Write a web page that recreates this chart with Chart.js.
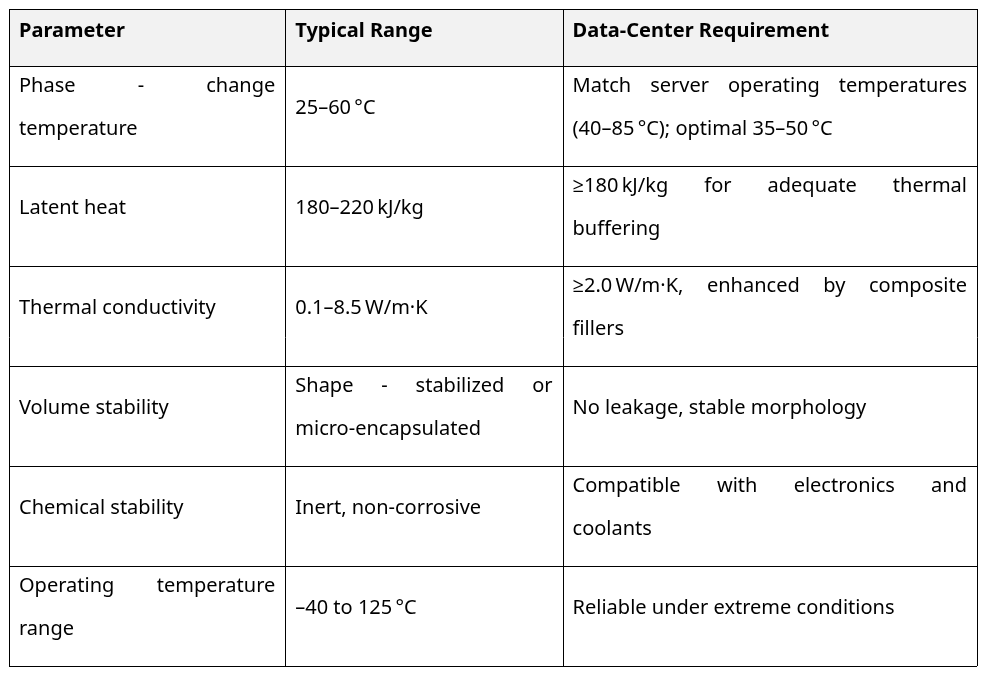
<!DOCTYPE html>
<html>
<head>
<meta charset="utf-8">
<script src="https://cdn.jsdelivr.net/npm/chart.js@4"></script>
<style>
  html, body { margin: 0; padding: 0; background: #fff; }
  #wrap { width: 984px; height: 673px; }
</style>
</head>
<body>
<div id="wrap"><canvas id="tbl"></canvas></div>
<script>
const headers = ['Parameter', 'Typical Range', 'Data-Center Requirement'];
const parameters = [
    ['Phase - change', 'temperature'],
    ['Latent heat'],
    ['Thermal conductivity'],
    ['Volume stability'],
    ['Chemical stability'],
    ['Operating temperature', 'range']
];
const ranges = [
    ['25\u201360\u2009\u00b0C'],
    ['180\u2013220\u2009kJ/kg'],
    ['0.1\u20138.5\u2009W/m\u00b7K'],
    ['Shape - stabilized or', 'micro-encapsulated'],
    ['Inert, non-corrosive'],
    ['\u201340 to 125\u2009\u00b0C']
];
const requirements = [
    ['Match server operating temperatures', '(40\u201385\u2009\u00b0C); optimal 35\u201350\u2009\u00b0C'],
    ['\u2265180\u2009kJ/kg for adequate thermal', 'buffering'],
    ['\u22652.0\u2009W/m\u00b7K, enhanced by composite', 'fillers'],
    ['No leakage, stable morphology'],
    ['Compatible with electronics and', 'coolants'],
    ['Reliable under extreme conditions']
];
const rowLabels = ['header', 'r1', 'r2', 'r3', 'r4', 'r5', 'r6'];
const colEdges = [0, 276, 553, 967];

const FONT = '"Noto Sans", "Open Sans", sans-serif';

function drawLine(ctx, words, x, y, width, justify) {
    if (!justify || words.length < 2) {
        ctx.fillText(words.join(' '), x, y);
        return;
    }
    const total = words.reduce((s, w) => s + ctx.measureText(w).width, 0);
    const gap = (width - total) / (words.length - 1);
    let cx = x;
    words.forEach(w => {
        ctx.fillText(w, cx, y);
        cx += ctx.measureText(w).width + gap;
    });
}

const tablePlugin = {
    id: 'tablePlugin',
    afterDraw(chart) {
        const ctx = chart.ctx;
        const xs = chart.scales.x, ys = chart.scales.y;
        const left = xs.getPixelForValue(colEdges[0]);
        const right = xs.getPixelForValue(colEdges[colEdges.length - 1]);
        const rowTop = i => ys.getPixelForValue(i) - ys.height / rowLabels.length / 2;
        const rowH = ys.height / rowLabels.length;
        // header row is shorter than the body rows
        const headH = 57;
        const bodyH = (ys.height - headH) / (rowLabels.length - 1);
        const top = ys.top;
        const yOf = r => r === 0 ? top : top + headH + (r - 1) * bodyH;

        ctx.save();
        ctx.fillStyle = '#f2f2f2';
        ctx.fillRect(left, top, right - left, headH);

        ctx.strokeStyle = '#000';
        ctx.lineWidth = 1;
        ctx.beginPath();
        for (let r = 0; r <= rowLabels.length; r++) {
            const y = Math.round(yOf(r)) + 0.5;
            ctx.moveTo(left, y); ctx.lineTo(right, y);
        }
        colEdges.forEach(c => {
            const x = Math.round(xs.getPixelForValue(c)) + 0.5;
            ctx.moveTo(x, top); ctx.lineTo(x, ys.bottom);
        });
        ctx.stroke();

        ctx.fillStyle = '#000';
        ctx.textBaseline = 'middle';
        ctx.font = 'bold 20px ' + FONT;
        headers.forEach((h, c) => {
            ctx.fillText(h, xs.getPixelForValue(colEdges[c]) + 10, top + 22);
        });

        ctx.font = '20px ' + FONT;
        const lineGap = 43;
        const columns = [parameters, ranges, requirements];
        for (let r = 1; r < rowLabels.length; r++) {
            const mid = yOf(r) + bodyH / 2 - 8;
            columns.forEach((col, c) => {
                const lines = col[r - 1];
                const x0 = xs.getPixelForValue(colEdges[c]) + 10;
                const w = xs.getPixelForValue(colEdges[c + 1]) - xs.getPixelForValue(colEdges[c]) - 20;
                const y0 = mid - (lines.length - 1) * lineGap / 2;
                lines.forEach((ln, i) => {
                    const justify = i < lines.length - 1;
                    drawLine(ctx, ln.split(' '), x0, y0 + i * lineGap, w, justify);
                });
            });
        }
        ctx.restore();
    }
};

new Chart(document.getElementById('tbl'), {
    type: 'bar',
    data: { labels: rowLabels, datasets: [{ data: [] }] },
    options: {
        responsive: true,
        maintainAspectRatio: false,
        animation: false,
        layout: { padding: { left: 9, right: 7, top: 9, bottom: 7 } },
        plugins: { legend: { display: false }, tooltip: { enabled: false } },
        indexAxis: 'y',
        scales: {
            x: { type: 'linear', display: false, min: colEdges[0], max: colEdges[colEdges.length - 1] },
            y: { type: 'category', display: false }
        }
    },
    plugins: [tablePlugin]
});
</script>
</body>
</html>
